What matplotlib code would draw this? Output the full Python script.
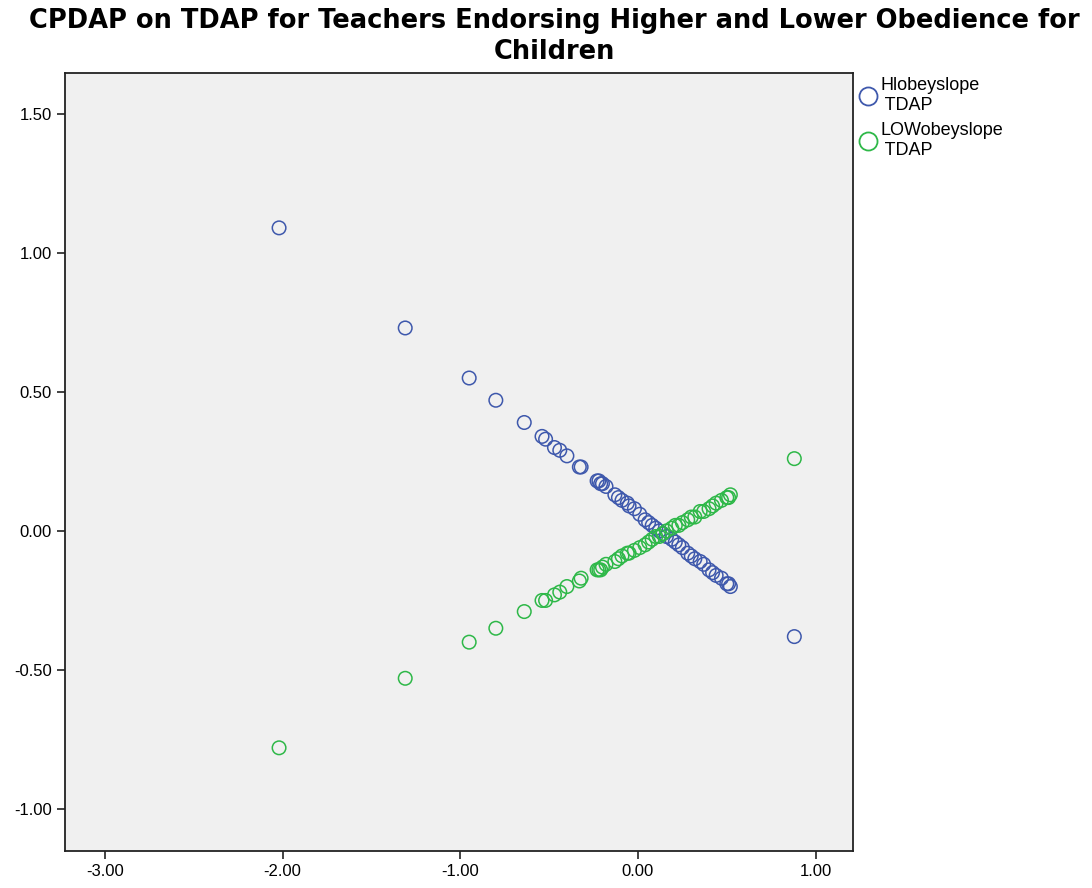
import matplotlib
matplotlib.use("Agg")
import matplotlib.pyplot as plt
from matplotlib.lines import Line2D

plt.rcParams['font.family'] = ['Liberation Sans', 'DejaVu Sans']

# TDAP values (shared by both series)
tdap = [-2.02, -1.31, -0.95, -0.80, -0.64, -0.54, -0.52, -0.47, -0.44, -0.40,
        -0.33, -0.32, -0.23, -0.22, -0.21, -0.20, -0.18, -0.13, -0.11, -0.09,
        -0.06, -0.05, -0.02, 0.01, 0.04, 0.06, 0.08, 0.10, 0.12, 0.14,
        0.16, 0.19, 0.21, 0.23, 0.25, 0.28, 0.30, 0.32, 0.35, 0.37,
        0.40, 0.42, 0.44, 0.47, 0.50, 0.51, 0.52, 0.88]

hi_obey = [1.09, 0.73, 0.55, 0.47, 0.39, 0.34, 0.33, 0.30, 0.29, 0.27,
           0.23, 0.23, 0.18, 0.18, 0.17, 0.17, 0.16, 0.13, 0.12, 0.11,
           0.10, 0.09, 0.08, 0.06, 0.04, 0.03, 0.02, 0.01, 0.00, -0.01,
           -0.02, -0.03, -0.04, -0.05, -0.06, -0.08, -0.09, -0.10, -0.11, -0.12,
           -0.14, -0.15, -0.16, -0.17, -0.19, -0.19, -0.20, -0.38]

low_obey = [-0.78, -0.53, -0.40, -0.35, -0.29, -0.25, -0.25, -0.23, -0.22, -0.20,
            -0.18, -0.17, -0.14, -0.14, -0.14, -0.13, -0.12, -0.11, -0.10, -0.09,
            -0.08, -0.08, -0.07, -0.06, -0.05, -0.04, -0.03, -0.02, -0.02, -0.01,
            0.00, 0.01, 0.02, 0.02, 0.03, 0.04, 0.05, 0.05, 0.07, 0.07,
            0.08, 0.09, 0.10, 0.11, 0.12, 0.12, 0.13, 0.26]

labels = ['Hlobeyslope\n TDAP', 'LOWobeyslope\n TDAP']
colors = ['#3E58AC', '#2EB848']

xticks = [-3, -2, -1, 0, 1]
yticks = [-1, -0.5, 0, 0.5, 1, 1.5]

fig = plt.figure(figsize=(10.92, 8.88), dpi=100)
ax = fig.add_axes([0.0595, 0.0417, 0.7216, 0.8761])
ax.set_facecolor('#F0F0F0')

ax.scatter(tdap, hi_obey, s=95, facecolors='none', edgecolors=colors[0], linewidths=1.1, zorder=3)
ax.scatter(tdap, low_obey, s=95, facecolors='none', edgecolors=colors[1], linewidths=1.1, zorder=3)

ax.set_xlim(-3.225, 1.21)
ax.set_ylim(-1.151, 1.647)
ax.set_xticks(xticks)
ax.set_yticks(yticks)
ax.set_xticklabels(['%.2f' % v for v in xticks])
ax.set_yticklabels(['%.2f' % v for v in yticks])
ax.tick_params(direction='out', length=6, width=1.2, labelsize=12, color='#222222')
for sp in ax.spines.values():
    sp.set_linewidth(1.3)
    sp.set_color('#222222')

fig.text(0.508, 0.991, 'CPDAP on TDAP for Teachers Endorsing Higher and Lower Obedience for\nChildren',
         ha='center', va='top', fontsize=18.5, fontweight='bold', linespacing=1.25,
         family='DejaVu Sans')

handles = [Line2D([], [], linestyle='none', marker='o', markersize=13, markerfacecolor='none',
                  markeredgecolor=c, markeredgewidth=1.3) for c in colors]
fig.legend(handles, labels, loc='upper left', bbox_to_anchor=(0.778, 0.921), frameon=False,
           fontsize=13, handletextpad=0.1, labelspacing=0.45, handlelength=1.2,
           borderaxespad=0)

fig.savefig('out.png', dpi=100)
